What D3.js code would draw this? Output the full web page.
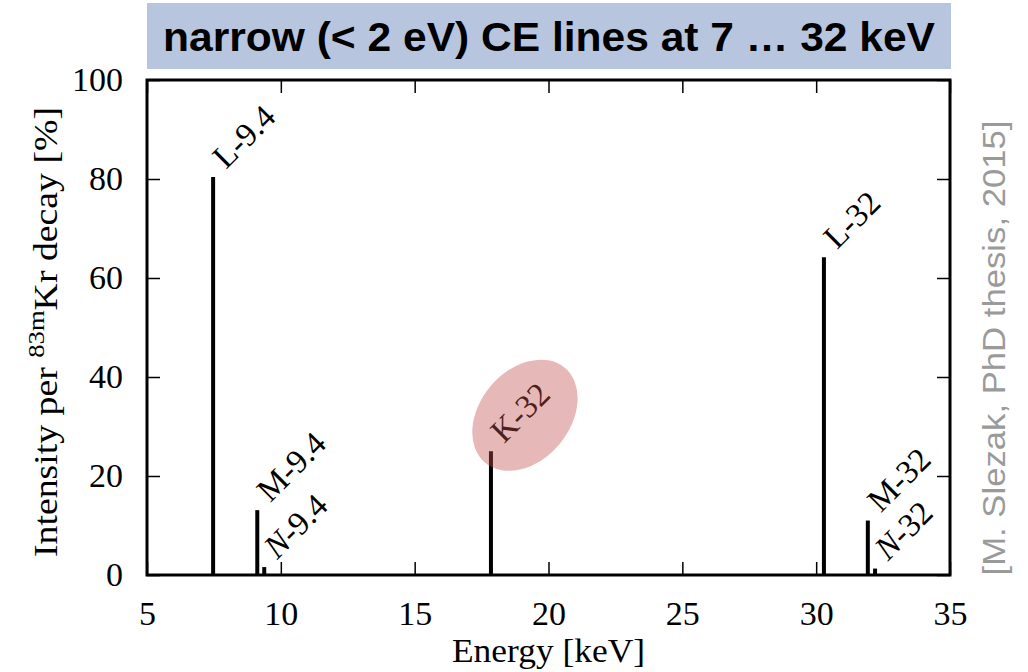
<!DOCTYPE html>
<html>
<head>
<meta charset="utf-8">
<script src="https://d3js.org/d3.v7.min.js"></script>
<style>
  body { margin: 0; background: #fff; }
  .tick text { font-family: "Liberation Serif", serif; font-size: 34px; fill: #000; }
</style>
</head>
<body>
<script>
// ==================== Data ============================
// Conversion electron lines of 83mKr: shell, parent gamma, energy [keV], intensity [%]
const lineNames  = ['L-9.4', 'M-9.4', 'N-9.4', 'K-32', 'L-32', 'M-32', 'N-32'];
const energies   = [7.47, 9.12, 9.38, 17.85, 30.29, 31.93, 32.2];
const intensities = [80.4, 13.1, 1.6, 25.0, 64.2, 11.0, 1.3];
const xTicks = [5, 10, 15, 20, 25, 30, 35];
const yTicks = [0, 20, 40, 60, 80, 100];
const titleText = 'narrow (< 2 eV) CE lines at 7 … 32 keV';
const creditText = '[M. Slezak, PhD thesis, 2015]';
const highlighted = 'K-32';

const lines = lineNames.map((name, i) => ({name, energy: energies[i], value: intensities[i]}));

// ==================== Set up Variables ============================
const W = 1028, H = 672;
const margin = {top: 80, right: 78, bottom: 97, left: 147},
      width = W - margin.left - margin.right,
      height = H - margin.top - margin.bottom;

const x = d3.scaleLinear().domain([5, 35]).range([0, width]),
      y = d3.scaleLinear().domain([0, 100]).range([height, 0]);

const svg0 = d3.select('body').append('svg')
    .attr('width', W)
    .attr('height', H);

// Title banner
svg0.append('rect')
    .attr('x', 147).attr('y', 3)
    .attr('width', 804).attr('height', 66)
    .attr('fill', '#b8c5de');

svg0.append('text')
    .attr('x', 549).attr('y', 51)
    .attr('text-anchor', 'middle')
    .attr('textLength', 772)
    .attr('lengthAdjust', 'spacingAndGlyphs')
    .style('font-family', '"Liberation Sans", Arial, sans-serif')
    .style('font-weight', 'bold')
    .style('font-size', '40px')
    .text(titleText);

const svg = svg0.append('g')
    .attr('transform', `translate(${margin.left}, ${margin.top})`);

// ==================== Axes ============================
const tickLen = 13;

svg.append('g')
    .attr('transform', `translate(0, ${height})`)
    .call(d3.axisBottom(x).tickValues(xTicks).tickSize(-tickLen).tickPadding(tickLen + 13).tickFormat(d3.format('d')))
    .call(g => g.select('.domain').remove())
    .call(g => g.selectAll('line').attr('stroke-width', 1.5));

svg.append('g')
    .call(d3.axisTop(x).tickValues(xTicks).tickSize(-tickLen).tickFormat(''))
    .call(g => g.select('.domain').remove())
    .call(g => g.selectAll('line').attr('stroke-width', 1.5));

svg.append('g')
    .call(d3.axisLeft(y).tickValues(yTicks).tickSize(-tickLen).tickPadding(tickLen + 11).tickFormat(d3.format('d')))
    .call(g => g.select('.domain').remove())
    .call(g => g.selectAll('line').attr('stroke-width', 1.5));

svg.append('g')
    .attr('transform', `translate(${width}, 0)`)
    .call(d3.axisRight(y).tickValues(yTicks).tickSize(-tickLen).tickFormat(''))
    .call(g => g.select('.domain').remove())
    .call(g => g.selectAll('line').attr('stroke-width', 1.5));

// ==================== Lines ============================
svg.selectAll('.ce')
    .data(lines)
    .enter()
  .append('line')
    .attr('class', 'ce')
    .attr('x1', d => x(d.energy))
    .attr('x2', d => x(d.energy))
    .attr('y1', y(0))
    .attr('y2', d => y(d.value))
    .attr('stroke', '#000')
    .attr('stroke-width', 4);

// Rotated labels above each line
svg.selectAll('.lbl')
    .data(lines)
    .enter()
  .append('text')
    .attr('class', 'lbl')
    .attr('transform', d => `translate(${x(d.energy) + 13}, ${y(d.value) - 7}) rotate(-45)`)
    .style('font-family', '"Liberation Serif", serif')
    .style('font-size', '33px')
    .style('fill', '#000')
    .each(function(d) {
      const t = d3.select(this);
      const shell = d.name.split('-')[0];
      t.append('tspan')
        .style('font-style', shell === 'N' ? 'italic' : 'normal')
        .text(shell);
      t.append('tspan').text('-' + d.name.split('-')[1]);
    });

// Highlight ellipse for the K-32 line
const hl = lines.find(d => d.name === highlighted);
svg.append('ellipse')
    .attr('transform', `translate(${x(hl.energy) + 34}, ${y(hl.value) - 36}) rotate(-50)`)
    .attr('rx', 62)
    .attr('ry', 45)
    .attr('fill', '#c0504d')
    .attr('fill-opacity', 0.4);

// Frame
svg.append('rect')
    .attr('width', width)
    .attr('height', height)
    .attr('fill', 'none')
    .attr('stroke', '#000')
    .attr('stroke-width', 3);

// ==================== Axis titles ============================
svg.append('text')
    .attr('x', width / 2)
    .attr('y', height + 87)
    .attr('text-anchor', 'middle')
    .attr('textLength', 193)
    .attr('lengthAdjust', 'spacingAndGlyphs')
    .style('font-family', '"Liberation Serif", serif')
    .style('font-size', '34px')
    .text('Energy [keV]');

const yLab = svg0.append('text')
    .attr('transform', 'translate(57, 332) rotate(-90)')
    .attr('text-anchor', 'middle')
    .attr('textLength', 450)
    .attr('lengthAdjust', 'spacingAndGlyphs')
    .style('font-family', '"Liberation Serif", serif')
    .style('font-size', '34px');
yLab.append('tspan').text('Intensity per ');
yLab.append('tspan').attr('dy', -13).style('font-size', '24px').text('83m');
yLab.append('tspan').attr('dy', 13).text('Kr decay [%]');

svg0.append('text')
    .attr('transform', 'translate(1005, 348) rotate(-90)')
    .attr('text-anchor', 'middle')
    .attr('textLength', 455)
    .attr('lengthAdjust', 'spacingAndGlyphs')
    .style('font-family', '"Liberation Sans", Arial, sans-serif')
    .style('font-size', '31px')
    .style('fill', '#9a9a9a')
    .text(creditText);
</script>
</body>
</html>
